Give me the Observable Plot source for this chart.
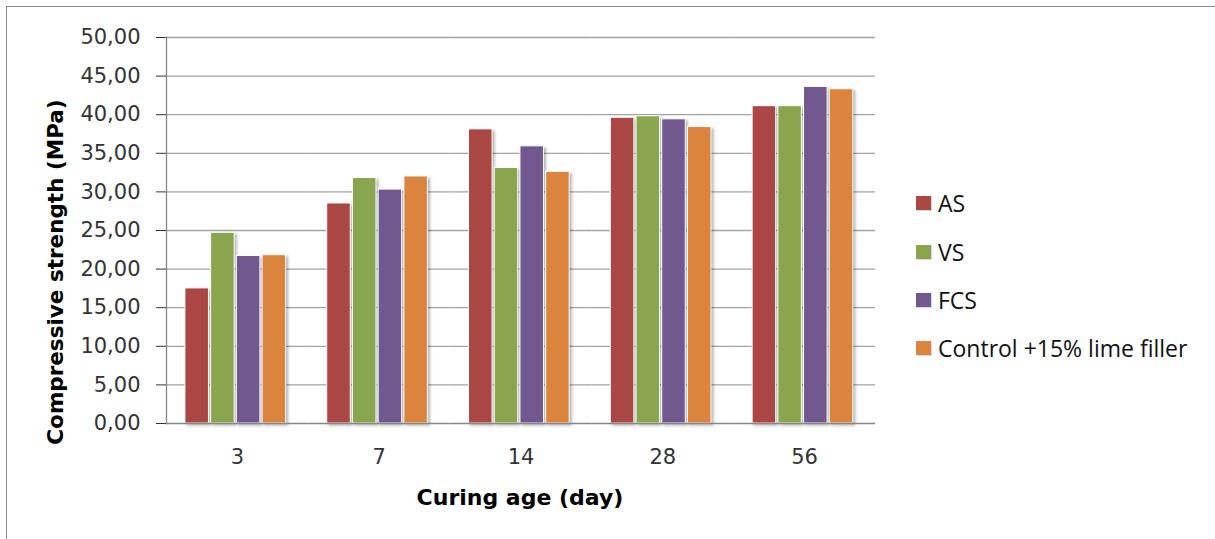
<!DOCTYPE html>
<html>
<head>
<meta charset="utf-8">
<script src="https://cdn.jsdelivr.net/npm/d3@7"></script>
<script src="https://cdn.jsdelivr.net/npm/@observablehq/plot@0.6"></script>
<style>
  html, body { margin: 0; padding: 0; background: #fff; overflow: hidden; }
  #wrap { position: relative; width: 1215px; height: 539px; overflow: hidden; }
  #border { position: absolute; left: 6px; top: 6px; width: 1400px; height: 800px;
            border-left: 1.5px solid #8c8c8c; border-top: 1.5px solid #8c8c8c; }
  #chart { position: absolute; left: 0; top: 0; }
  .ytitle { position: absolute; left: 55px; top: 272px; transform: translate(-50%, -50%) rotate(-90deg);
            font: bold 21.5px "DejaVu Sans"; color: #000; white-space: nowrap; }
  .xtitle { position: absolute; left: 520px; top: 497px; transform: translate(-50%, -50%);
            font: bold 22px "DejaVu Sans"; color: #000; white-space: nowrap; }
  #legend { position: absolute; left: 916px; top: 179px; }
  .item { display: flex; align-items: center; height: 48.4px; font: 23px "Open Sans"; color: #111; }
  .sw { width: 15px; height: 14px; margin-right: 7px; box-shadow: 1px 1px 1px rgba(0,0,0,0.15); }
  g[aria-label="y-axis tick"] { stroke: #868686; }
  g[aria-label="bar"] { filter: drop-shadow(2px 2px 1.5px rgba(0,0,0,0.3)); }
</style>
</head>
<body>
<div id="wrap">
  <div id="border"></div>
  <div id="chart"></div>
  <div class="ytitle">Compressive strength (MPa)</div>
  <div class="xtitle">Curing age (day)</div>
  <div id="legend"></div>
</div>
<script>
// ---- data ----
const ages = ["3", "7", "14", "28", "56"];
const seriesNames = ["AS", "VS", "FCS", "Control +15% lime filler"];
const AS = [17.5, 28.5, 38.1, 39.6, 41.1];
const VS = [24.7, 31.8, 33.1, 39.8, 41.1];
const FCS = [21.7, 30.3, 35.9, 39.4, 43.6];
const Control = [21.8, 32.0, 32.6, 38.4, 43.3];
const yTicks = [0, 5, 10, 15, 20, 25, 30, 35, 40, 45, 50];
const colors = ["#AA4643", "#89A54E", "#71588F", "#DB843D"];

const seriesValues = [AS, VS, FCS, Control];
const table = [];
ages.forEach((age, i) => {
  seriesNames.forEach((s, j) => table.push({age, series: s, value: seriesValues[j][i]}));
});

const fmt = d => d.toFixed(2).replace(".", ",");

const chart = Plot.plot({
  width: 875,
  height: 539,
  marginLeft: 166,
  marginRight: 0,
  marginTop: 37,
  marginBottom: 116,
  style: {fontFamily: "DejaVu Sans", fontSize: "21px", color: "#333", background: "transparent"},
  fx: {domain: ages, padding: 0, round: false, label: null, tickSize: 0, tickPadding: 26},
  x: {domain: seriesNames, axis: null, round: false, paddingInner: 0.085, paddingOuter: 0.8, align: 0.46},
  y: {domain: [0, 50], ticks: yTicks, tickFormat: fmt, tickSize: 10, tickPadding: 16, label: null},
  color: {domain: seriesNames, range: colors},
  marks: [
    Plot.ruleY(yTicks.slice(1), {stroke: "#a3a3a3", strokeWidth: 1.3}),
    Plot.frame({anchor: "left", fx: [ages[0]], stroke: "#868686", strokeWidth: 1.3}),
    Plot.barY(table, {fx: "age", x: "series", y: "value", fill: "series", stroke: "white", strokeWidth: 1}),
    Plot.ruleY([0], {stroke: "#868686", strokeWidth: 1.3})
  ]
});
document.getElementById("chart").appendChild(chart);

const legend = d3.select("#legend");
seriesNames.forEach((s, i) => {
  const it = legend.append("div").attr("class", "item");
  it.append("div").attr("class", "sw").style("background", colors[i]);
  it.append("span").text(s);
});
</script>
</body>
</html>
